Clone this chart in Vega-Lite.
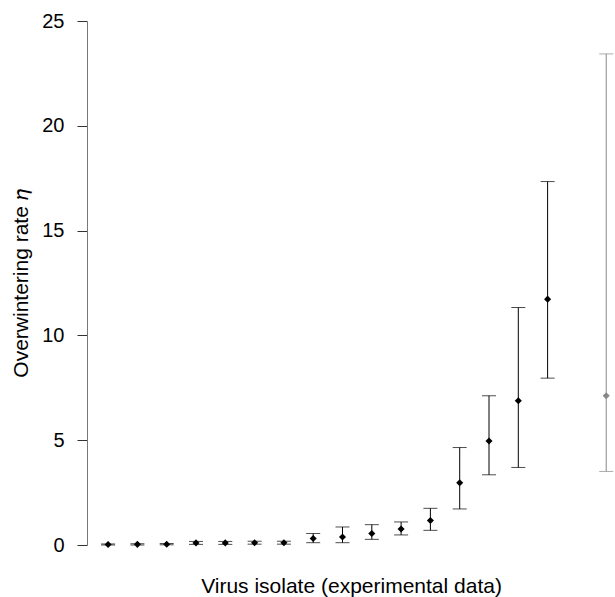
{
  "$schema": "https://vega.github.io/schema/vega-lite/v6.json",
  "width": 528,
  "height": 524,
  "autosize": {"type": "none"},
  "padding": {"left": 87, "top": 21, "right": 0, "bottom": 52},
  "background": "white",
  "config": {"view": {"stroke": null}, "font": "Liberation Sans"},
  "data": {
    "values": [
      {"idx": 0, "v": 0.02, "lo": 0.0, "hi": 0.05, "grp": "exp"},
      {"idx": 1, "v": 0.03, "lo": 0.0, "hi": 0.06, "grp": "exp"},
      {"idx": 2, "v": 0.04, "lo": 0.01, "hi": 0.07, "grp": "exp"},
      {"idx": 3, "v": 0.1, "lo": 0.03, "hi": 0.17, "grp": "exp"},
      {"idx": 4, "v": 0.1, "lo": 0.03, "hi": 0.17, "grp": "exp"},
      {"idx": 5, "v": 0.11, "lo": 0.04, "hi": 0.18, "grp": "exp"},
      {"idx": 6, "v": 0.11, "lo": 0.04, "hi": 0.18, "grp": "exp"},
      {"idx": 7, "v": 0.31, "lo": 0.11, "hi": 0.55, "grp": "exp"},
      {"idx": 8, "v": 0.38, "lo": 0.11, "hi": 0.86, "grp": "exp"},
      {"idx": 9, "v": 0.55, "lo": 0.27, "hi": 0.97, "grp": "exp"},
      {"idx": 10, "v": 0.76, "lo": 0.48, "hi": 1.1, "grp": "exp"},
      {"idx": 11, "v": 1.17, "lo": 0.7, "hi": 1.75, "grp": "exp"},
      {"idx": 12, "v": 2.97, "lo": 1.72, "hi": 4.65, "grp": "exp"},
      {"idx": 13, "v": 4.96, "lo": 3.35, "hi": 7.12, "grp": "exp"},
      {"idx": 14, "v": 6.88, "lo": 3.7, "hi": 11.33, "grp": "exp"},
      {"idx": 15, "v": 11.73, "lo": 7.96, "hi": 17.34, "grp": "exp"},
      {"idx": 17, "v": 7.12, "lo": 3.51, "hi": 23.43, "grp": "pred"}
    ]
  },
  "encoding": {
    "x": {
      "field": "idx",
      "type": "quantitative",
      "scale": {"domain": [-0.72, 17.3], "nice": false, "zero": false},
      "axis": {
        "title": "Virus isolate (experimental data)",
        "domain": false,
        "ticks": false,
        "labels": false,
        "grid": false,
        "titleFontSize": 21,
        "titleFontWeight": "normal",
        "titleColor": "black",
        "titleY": 47,
        "titleBaseline": "alphabetic"
      }
    },
    "color": {
      "field": "grp",
      "type": "nominal",
      "scale": {"domain": ["exp", "pred"], "range": ["#000000", "#888888"]},
      "legend": null
    }
  },
  "layer": [
    {
      "mark": {"type": "rule", "strokeWidth": 1},
      "encoding": {
        "y": {
          "field": "lo",
          "type": "quantitative",
          "scale": {"domain": [0, 25], "nice": false},
          "axis": {
            "title": "Overwintering rate 𝜂",
            "values": [0, 5, 10, 15, 20, 25],
            "grid": false,
            "domainColor": "#777777",
            "tickColor": "#333333",
            "tickSize": 10,
            "labelPadding": 13,
            "labelFontSize": 20,
            "labelColor": "black",
            "titleFontSize": 21,
            "titleFontWeight": "normal",
            "titleColor": "black",
            "titleAngle": 270,
            "titleX": -60,
            "titleY": 262,
            "titleAlign": "center",
            "titleBaseline": "alphabetic"
          }
        },
        "y2": {"field": "hi"}
      }
    },
    {
      "mark": {"type": "tick", "orient": "horizontal", "size": 14, "thickness": 1},
      "encoding": {"y": {"field": "lo", "type": "quantitative"}}
    },
    {
      "mark": {"type": "tick", "orient": "horizontal", "size": 14, "thickness": 1},
      "encoding": {"y": {"field": "hi", "type": "quantitative"}}
    },
    {
      "mark": {"type": "point", "shape": "diamond", "filled": true, "size": 50, "opacity": 1},
      "encoding": {"y": {"field": "v", "type": "quantitative"}}
    }
  ]
}
